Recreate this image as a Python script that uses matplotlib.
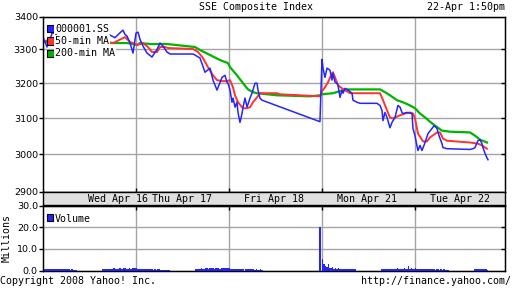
import numpy as np
import matplotlib
matplotlib.use("Agg")
import matplotlib.pyplot as plt
from matplotlib.patches import Rectangle
from matplotlib.ticker import FixedLocator, NullLocator, FixedFormatter

# ---------------- data ----------------
# time in trading-day units (0 = Wed Apr 16 09:30, 1 = Thu Apr 17 09:30, ...)
price_t = [0.000, 0.022, 0.043, 0.054, 0.075, 0.097, 0.129, 0.183, 0.237, 0.280, 0.344, 0.398,
           0.505, 0.613, 0.720, 0.774, 0.828, 0.860, 0.882, 0.903, 0.935, 0.968,
           1.000, 1.022, 1.043, 1.075, 1.118, 1.172, 1.226, 1.258, 1.290, 1.333, 1.366, 1.613,
           1.634, 1.688, 1.742, 1.796, 1.828, 1.871, 1.925, 1.957, 1.978, 1.989,
           2.011, 2.032, 2.043, 2.065, 2.086, 2.097, 2.118, 2.140, 2.151, 2.172, 2.194, 2.226,
           2.247, 2.280, 2.301, 2.312, 2.333, 2.355, 2.978,
           3.000, 3.011, 3.032, 3.054, 3.086, 3.108, 3.118, 3.140, 3.161, 3.172, 3.194, 3.215,
           3.226, 3.247, 3.280, 3.323, 3.333, 3.376, 3.409, 3.591, 3.624, 3.645, 3.656, 3.677,
           3.699, 3.731, 3.753, 3.785, 3.817, 3.839, 3.860, 3.871, 3.914, 3.968, 3.978,
           4.000, 4.016, 4.032, 4.054, 4.075, 4.108, 4.140, 4.183, 4.205, 4.237, 4.258, 4.290,
           4.301, 4.344, 4.591, 4.624, 4.645, 4.677, 4.699, 4.720, 4.731, 4.753, 4.774, 4.785]
price_v = [3337, 3322, 3307, 3319, 3328, 3349, 3349, 3330, 3322, 3310, 3325, 3330,
           3328, 3322, 3343, 3335, 3350, 3358, 3345, 3340, 3320, 3289,
           3349, 3352, 3330, 3310, 3289, 3277, 3300, 3319, 3310, 3292, 3286, 3286,
           3283, 3274, 3232, 3244, 3209, 3180, 3217, 3223, 3203, 3200,
           3180, 3145, 3157, 3131, 3145, 3116, 3088, 3113, 3131, 3157, 3131, 3157,
           3171, 3200, 3200, 3180, 3157, 3151, 3090,
           3270, 3244, 3217, 3244, 3238, 3209, 3229, 3203, 3200, 3194, 3159, 3180,
           3171, 3185, 3180, 3171, 3151, 3145, 3142, 3142, 3136, 3122, 3093, 3116,
           3102, 3073, 3088, 3102, 3136, 3131, 3116, 3113, 3116, 3113, 3071,
           3051, 3029, 3010, 3024, 3010, 3032, 3057, 3071, 3079, 3071, 3051, 3029,
           3018, 3015, 3013, 3015, 3018, 3037, 3040, 3029, 3018, 3002, 2990, 2985]

ma50_t = [0.000, 0.183, 0.323, 0.505, 0.613, 0.753, 0.882, 0.935, 0.968,
          1.011, 1.075, 1.129, 1.172, 1.226, 1.258, 1.312, 1.344, 1.613, 1.667, 1.720,
          1.774, 1.828, 1.871, 1.925, 1.978,
          2.011, 2.043, 2.065, 2.097, 2.140, 2.151, 2.194, 2.226, 2.258, 2.301, 2.333,
          2.516, 2.548, 2.978,
          3.000, 3.032, 3.065, 3.108, 3.118, 3.140, 3.172, 3.215, 3.247, 3.301, 3.624,
          3.656, 3.699, 3.731, 3.763, 3.839, 3.892, 3.946, 3.978,
          4.000, 4.032, 4.086, 4.129, 4.161, 4.237, 4.269, 4.301, 4.344, 4.591, 4.677,
          4.720, 4.774]
ma50_v = [3325, 3330, 3338, 3333, 3325, 3319, 3337, 3322, 3319,
          3313, 3319, 3307, 3292, 3292, 3307, 3307, 3304, 3301, 3292, 3274,
          3247, 3223, 3209, 3206, 3206,
          3209, 3188, 3165, 3145, 3131, 3128, 3128, 3131, 3145, 3159, 3171,
          3171, 3168, 3162,
          3177, 3188, 3203, 3229, 3232, 3217, 3194, 3185, 3180, 3171, 3171,
          3151, 3122, 3102, 3099, 3108, 3113, 3116, 3113,
          3099, 3057, 3035, 3035, 3046, 3060, 3060, 3043, 3037, 3032, 3029,
          3024, 3015]

ma200_t = [0.000, 0.400, 0.753, 0.903, 0.968, 1.011, 1.043, 1.151, 1.333, 1.634, 1.688,
           1.796, 1.903, 1.989, 2.011, 2.086, 2.151, 2.204, 2.258, 2.301, 2.516, 2.871,
           2.978, 3.000, 3.118, 3.194, 3.269, 3.624, 3.677, 3.731, 3.806, 3.871, 3.946,
           4.000, 4.054, 4.108, 4.161, 4.215, 4.290, 4.376, 4.591, 4.645, 4.699, 4.774]
ma200_v = [3322, 3322, 3319, 3319, 3316, 3313, 3319, 3316, 3316, 3307, 3298,
           3283, 3268, 3259, 3247, 3223, 3200, 3182, 3174, 3171, 3165, 3162,
           3165, 3168, 3171, 3177, 3182, 3182, 3174, 3165, 3151, 3145, 3136,
           3128, 3113, 3102, 3090, 3079, 3065, 3062, 3060, 3051, 3040, 3032]

# volume (millions) per 5-minute slot; morning slots 0-23, afternoon slots 42-65
vol_am = {
    0: [0.9, 0.7, 0.7, 0.6, 0.8, 0.6, 0.6, 0.7, 0.5, 0.6, 0.5, 0.6, 0.5, 0.6, 0.5, 0.5, 0.6, 0.5, 0.5, 0.4, 0.5, 0.4, 0.2, 0.2],
    1: [1.0, 0.8, 0.7, 0.6, 0.7, 0.6, 0.5, 0.6, 0.5, 0.6, 0.5, 0.5, 0.4, 0.5, 0.4, 0.5, 0.5, 0.4, 0.4, 0.3, 0.2, 0.2, 0.2, 0.2],
    2: [1.2, 0.9, 0.8, 0.7, 0.9, 0.7, 0.6, 0.8, 0.7, 0.6, 0.7, 0.6, 0.5, 0.6, 0.5, 0.6, 0.5, 0.5, 0.4, 0.5, 0.4, 0.4, 0.5, 0.4],
    3: [5.1, 3.1, 2.1, 1.6, 3.2, 1.3, 1.0, 1.4, 0.9, 1.0, 0.8, 1.1, 0.7, 0.9, 0.8, 0.7, 0.8, 0.6, 0.7, 0.6, 0.5, 0.6, 0.5, 0.5],
    4: [1.0, 0.8, 0.7, 0.6, 0.6, 0.7, 0.5, 0.6, 0.5, 0.6, 0.5, 0.5, 0.6, 0.5, 0.4, 0.5, 0.5, 0.4, 0.5, 0.4, 0.6, 0.4, 0.4, 0.3],
}
vol_pm = {
    0: [0.6, 0.7, 0.8, 0.9, 0.7, 0.8, 0.6, 0.9, 1.1, 0.8, 0.7, 0.9, 1.0, 0.8, 0.7, 1.0, 1.1, 0.9, 0.8, 1.0, 0.9, 1.1, 1.2, 1.0],
    1: [0.8, 0.7, 0.8, 0.9, 1.0, 0.8, 0.9, 1.2, 1.0, 0.9, 1.1, 1.3, 1.0, 0.9, 1.1, 1.0, 1.2, 0.9, 1.0, 1.1, 1.3, 1.2, 1.0, 1.1],
    3: [0.8, 0.9, 0.7, 0.8, 0.6, 0.7, 0.5, 0.6, 0.7, 0.5, 0.6, 1.0, 0.7, 0.6, 0.8, 0.7, 1.2, 0.6, 0.7, 2.3, 0.8, 1.2, 0.7, 0.6],
    4: [0.6, 0.5, 0.6, 0.5, 0.5, 0.6, 0.7, 0.5, 0.6, 0.4],
}
fri_close_t = 2 + 64 / 66
fri_close_vol = 20.2

day_labels = ["Wed Apr 16", "Thu Apr 17", "Fri Apr 18", "Mon Apr 21", "Tue Apr 22"]
day_label_pos = [0.81, 1.49, 2.48, 3.48, 4.48]
price_ticks = [2900, 3000, 3100, 3200, 3300, 3400]
vol_ticks = [0, 10, 20, 30]
legend_names = ["000001.SS", "50-min MA", "200-min MA"]

BLUE = "#2424ff"
RED = "#ff3232"
GREEN = "#00b400"
GRID = "#a4a4a4"
MONO = "DejaVu Sans Mono"
SANS = "DejaVu Sans"

W, H = 512, 288
def fx(x): return x / W
def fy(y): return 1 - y / H

fig = plt.figure(figsize=(5.12, 2.88), dpi=100)
fig.patch.set_facecolor("white")

XMAX = (505 - 43) / 93

# ---- main price axes ----
ax = fig.add_axes([fx(43), fy(191.5), (505 - 43) / W, 175 / H])
ax.set_yscale("log")
ax.set_ylim(2900, 3400)
ax.set_xlim(0, XMAX)
ax.yaxis.set_major_locator(FixedLocator(price_ticks))
ax.yaxis.set_major_formatter(FixedFormatter([str(v) for v in price_ticks]))
ax.yaxis.set_minor_locator(NullLocator())
ax.set_xticks([1, 2, 3, 4])
ax.tick_params(axis="x", direction="in", length=3, width=1, labelbottom=False, color="black")
ax.tick_params(axis="y", direction="out", length=3.2, width=1, pad=0.5, labelsize=6.8)
for lab in ax.get_yticklabels():
    lab.set_family(SANS)
ax.grid(True, color=GRID, lw=1.0)
ax.set_axisbelow(True)
for s in ax.spines.values():
    s.set_linewidth(1.0)

ax.plot(ma200_t, ma200_v, color=GREEN, lw=1.6, zorder=3)
ax.plot(ma50_t, ma50_v, color=RED, lw=1.4, zorder=4)
ax.plot(price_t, price_v, color=BLUE, lw=1.1, zorder=5)

axr = ax.twinx()
axr.set_yscale("log")
axr.set_ylim(2900, 3400)
axr.yaxis.set_major_locator(FixedLocator([3000, 3100, 3200, 3300]))
axr.yaxis.set_minor_locator(NullLocator())
axr.tick_params(axis="y", direction="in", length=3.2, width=1, labelright=False)

# ---- date band ----
band = fig.add_axes([fx(43), fy(205), (505 - 43) / W, 13.5 / H])
band.set_facecolor("#e0e0e0")
band.set_xlim(0, XMAX)
band.set_xticks([])
band.set_yticks([])
for s in band.spines.values():
    s.set_linewidth(1.0)
for lab, pos in zip(day_labels, day_label_pos):
    band.text(pos, 0.45, lab, ha="center", va="center", family=MONO, fontsize=7.2)

# ---- volume axes ----
vax = fig.add_axes([fx(43), fy(270.5), (505 - 43) / W, 65 / H])
vax.set_xlim(0, XMAX)
vax.set_ylim(0, 30)
vol_t, vol_v = [], []
for d, vals in vol_am.items():
    for i, v in enumerate(vals):
        vol_t.append(d + i / 66)
        vol_v.append(v)
for d, vals in vol_pm.items():
    for i, v in enumerate(vals):
        vol_t.append(d + (42 + i) / 66)
        vol_v.append(v)
vol_t.append(fri_close_t)
vol_v.append(fri_close_vol)
vax.bar(vol_t, vol_v, width=1 / 66, align="edge", color=BLUE, lw=0, zorder=3)
vax.set_yticks(vol_ticks)
vax.set_yticklabels(["%.1f" % v for v in vol_ticks])
vax.set_xticks([1, 2, 3, 4])
vax.tick_params(axis="x", direction="in", length=3, width=1, bottom=False, top=True,
                labelbottom=False)
vax.tick_params(axis="y", direction="out", length=3.2, width=1, pad=0.5, labelsize=6.8)
vax.grid(True, color=GRID, lw=1.0)
vax.set_axisbelow(True)
for s in vax.spines.values():
    s.set_linewidth(1.0)
vaxr = vax.twinx()
vaxr.set_ylim(0, 30)
vaxr.set_yticks([10, 20])
vaxr.tick_params(axis="y", direction="in", length=3.2, width=1, labelright=False)

# ---- legends ----
leg_colors = [BLUE, RED, GREEN]
leg_y = [28.5, 41, 53.5]
for name, c, y in zip(legend_names, leg_colors, leg_y):
    fig.patches.append(Rectangle((fx(46.5), fy(y + 3.5)), 7 / W, 7 / H,
                                 transform=fig.transFigure, facecolor=c,
                                 edgecolor="black", lw=0.8, zorder=5))
    fig.text(fx(55), fy(y), name, ha="left", va="center", family=MONO, fontsize=7.2,
             bbox=dict(facecolor="white", edgecolor="none", pad=0.6), zorder=6)
fig.patches.append(Rectangle((fx(46.5), fy(220.5)), 6.5 / W, 6.5 / H,
                             transform=fig.transFigure, facecolor=BLUE,
                             edgecolor="black", lw=0.8, zorder=5))
fig.text(fx(55), fy(218.5), "Volume", ha="left", va="center", family=MONO, fontsize=7.2,
         zorder=6)

# ---- header / footer texts ----
fig.text(fx(256), fy(7), "SSE Composite Index", ha="center", va="center", family=MONO, fontsize=7.2)
fig.text(fx(505), fy(7), "22-Apr 1:50pm", ha="right", va="center", family=MONO, fontsize=7.2)
fig.text(fx(7), fy(238), "Millions", rotation=90, ha="center", va="center", family=MONO, fontsize=7.2)
fig.text(fx(0), fy(280.5), "Copyright 2008 Yahoo! Inc.", ha="left", va="center", family=MONO, fontsize=7.2)
fig.text(fx(511), fy(280.5), "http://finance.yahoo.com/", ha="right", va="center", family=MONO, fontsize=7.2)

fig.savefig("out.png", dpi=100)
